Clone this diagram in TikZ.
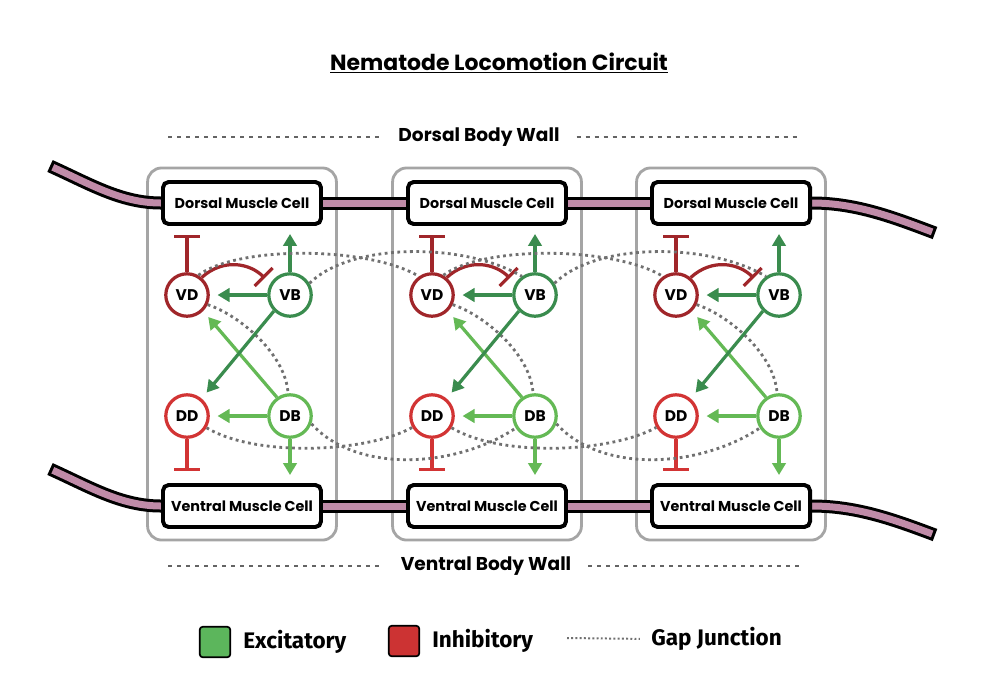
\documentclass[tikz,border=0pt]{standalone}
\usepackage{fontspec}
\setmainfont{Poppins}
\newfontfamily\legendfont{Fira Sans}
\usepackage{tikz}
\usetikzlibrary{positioning,arrows.meta,backgrounds}
\definecolor{vdcolor}{RGB}{160, 38, 42}
\definecolor{ddcolor}{RGB}{210, 52, 52}
\definecolor{vbcolor}{RGB}{58, 140, 78}
\definecolor{dbcolor}{RGB}{100, 185, 85}
\definecolor{excolor}{RGB}{92, 182, 92}
\definecolor{incolor}{RGB}{204, 51, 51}
\definecolor{wallcolor}{RGB}{192, 139, 168}
\definecolor{segcolor}{RGB}{165, 165, 165}
\definecolor{gapcolor}{RGB}{112, 112, 112}
\definecolor{guidecolor}{RGB}{100, 100, 100}
\tikzset{
    neuron/.style={circle, draw, line width=2.3pt, fill=white, minimum size=1.06cm, inner sep=0pt, font=\bfseries\fontsize{11}{13}\selectfont},
    vd neuron/.style={neuron, draw=vdcolor},
    vb neuron/.style={neuron, draw=vbcolor},
    dd neuron/.style={neuron, draw=ddcolor},
    db neuron/.style={neuron, draw=dbcolor},
    muscle/.style={rectangle, rounded corners=4pt, draw=black, line width=2.8pt, fill=white, minimum width=3.95cm, minimum height=1.05cm, font=\bfseries\fontsize{10.2}{12}\selectfont},
    segment/.style={rectangle, rounded corners=0.35cm, draw=segcolor, line width=2pt, fill=white, minimum width=4.72cm, minimum height=9.3cm},
    excite/.style={-{Triangle[length=8.5pt,width=9.5pt]}, line width=2.3pt},
    inhibit/.style={-{Bar[width=18pt]}, line width=2.3pt},
    gap/.style={draw=gapcolor, line width=2pt, dash pattern=on 2pt off 2.5pt},
    wall/.style={line width=0.175cm, draw=wallcolor, preaction={draw=black, line width=0.325cm, shorten <=0pt, shorten >=0pt}},
    wall guide/.style={line width=1.8pt, draw=guidecolor, dash pattern=on 2.8pt off 3.6pt},
    wall label/.style={font=\bfseries\fontsize{13.2}{15}\selectfont, inner xsep=0.42cm},
    legend box/.style={rectangle, rounded corners=2pt, draw=black, line width=1.2pt, minimum size=0.76cm},
    legend text/.style={font=\legendfont\bfseries\fontsize{16}{18}\selectfont, inner sep=0pt}
}
\begin{document}
\begin{tikzpicture}[x=0.025cm, y=-0.025cm]
    \useasboundingbox (0,0) rectangle (984,680);

    % Title and body wall labels
    \node[font=\bfseries\fontsize{15.6}{18}\selectfont] (title) at (499,63) {\underline{Nematode Locomotion Circuit}};
    \node[wall label] (dorsal) at (479,137) {Dorsal Body Wall};
    \node[wall label] (ventral) at (486,566) {Ventral Body Wall};
    \coordinate (dgl) at (168,137);
    \coordinate (dgr) at (800,137);
    \coordinate (vgl) at (168,566);
    \coordinate (vgr) at (800,566);
    \draw[wall guide] (dgl) -- (dorsal.west);
    \draw[wall guide] (dorsal.east) -- (dgr);
    \draw[wall guide] (vgl) -- (ventral.west);
    \draw[wall guide] (ventral.east) -- (vgr);

    % Segments: muscle cells and motor neurons
    \foreach \i/\cx in {1/242, 2/487, 3/731} {
        \node[muscle] (dm\i) at (\cx,203) {Dorsal Muscle Cell};
        \node[muscle] (vm\i) at (\cx,506) {Ventral Muscle Cell};
        \node[vd neuron] (vd\i) at (\cx-55,295) {VD};
        \node[vb neuron] (vb\i) at (\cx+48,295) {VB};
        \node[dd neuron] (dd\i) at (\cx-55,416) {DD};
        \node[db neuron] (db\i) at (\cx+48,416) {DB};

        % Gap junction inside the segment
        \draw[gap] (vd\i.-25) .. controls +(33,11) and +(-2,-38) .. (db\i.95);

        % Synapses
        \draw[inhibit, vdcolor, shorten >=6.4pt] (vd\i.north) -- (vd\i.north |- dm\i.south);
        \draw[excite, vbcolor, shorten >=5.7pt] (vb\i.north) -- (vb\i.north |- dm\i.south);
        \draw[excite, vbcolor, shorten >=5.5pt] (vb\i) -- (vd\i);
        \draw[inhibit, vdcolor, shorten >=5.5pt] (vd\i.50) .. controls +(22,-20) and +(-20,-20) .. (vb\i.150);
        \draw[excite, dbcolor, shorten >=5.5pt] (db\i.125) -- (vd\i.-45);
        \draw[excite, vbcolor, shorten >=5.5pt] (vb\i.225) -- (dd\i.50);
        \draw[excite, dbcolor, shorten >=5.5pt] (db\i) -- (dd\i);
        \draw[excite, dbcolor, shorten >=5.7pt] (db\i.south) -- (db\i.south |- vm\i.north);
        \draw[inhibit, ddcolor, shorten >=8.5pt] (dd\i.south) -- (dd\i.south |- vm\i.north);
    }

    % Gap junctions between segments
    \foreach \i/\j in {1/2, 2/3} {
        \draw[gap] (vd\i.60) .. controls +(40,-30) and +(-50,-30) .. (vd\j.125);
        \draw[gap] (vb\i.31) .. controls +(40,-40) and +(-60,-35) .. (vb\j.125);
        \draw[gap] (dd\i.-31) .. controls +(50,30) and +(-45,25) .. (dd\j.210);
        \draw[gap] (db\i.-20) .. controls +(45,50) and +(-60,40) .. (db\j.212);
    }

    % Segment frames and body wall
    \begin{scope}[on background layer]
        \foreach \i/\cx in {1/242, 2/487, 3/731}
            \node[segment] (seg\i) at (\cx,354) {};
        \coordinate (dwl) at (50,166);
        \coordinate (dwr) at (935,233);
        \coordinate (vwl) at (50,469);
        \coordinate (vwr) at (935,535);
        \draw[wall, shorten <=2.2pt] (dwl) .. controls +(40,18) and +(-40,0) .. (dm1.west);
        \draw[wall] (dm1.east) -- (dm2.west);
        \draw[wall] (dm2.east) -- (dm3.west);
        \draw[wall, shorten >=2.2pt] (dm3.east) .. controls +(45,0) and +(-40,-15) .. (dwr);
        \draw[wall, shorten <=2.2pt] (vwl) .. controls +(40,18) and +(-40,0) .. (vm1.west);
        \draw[wall] (vm1.east) -- (vm2.west);
        \draw[wall] (vm2.east) -- (vm3.west);
        \draw[wall, shorten >=2.2pt] (vm3.east) .. controls +(45,0) and +(-40,-15) .. (vwr);
    \end{scope}

    % Legend
    \node[legend box, fill=excolor] (exbox) at (215,642) {};
    \node[legend text, right=0.3cm of exbox] (extext) {Excitatory};
    \node[legend box, fill=incolor] (inbox) at (404,641) {};
    \node[legend text, right=0.3cm of inbox] (intext) {Inhibitory};
    \coordinate (gapstart) at (567,638);
    \node[legend text, anchor=west] (gaptext) at (651,639) {Gap Junction};
    \draw[gap, line width=1.4pt, dash pattern=on 1.4pt off 1.6pt, shorten >=8pt] (gapstart) -- (gaptext.west);
\end{tikzpicture}
\end{document}
